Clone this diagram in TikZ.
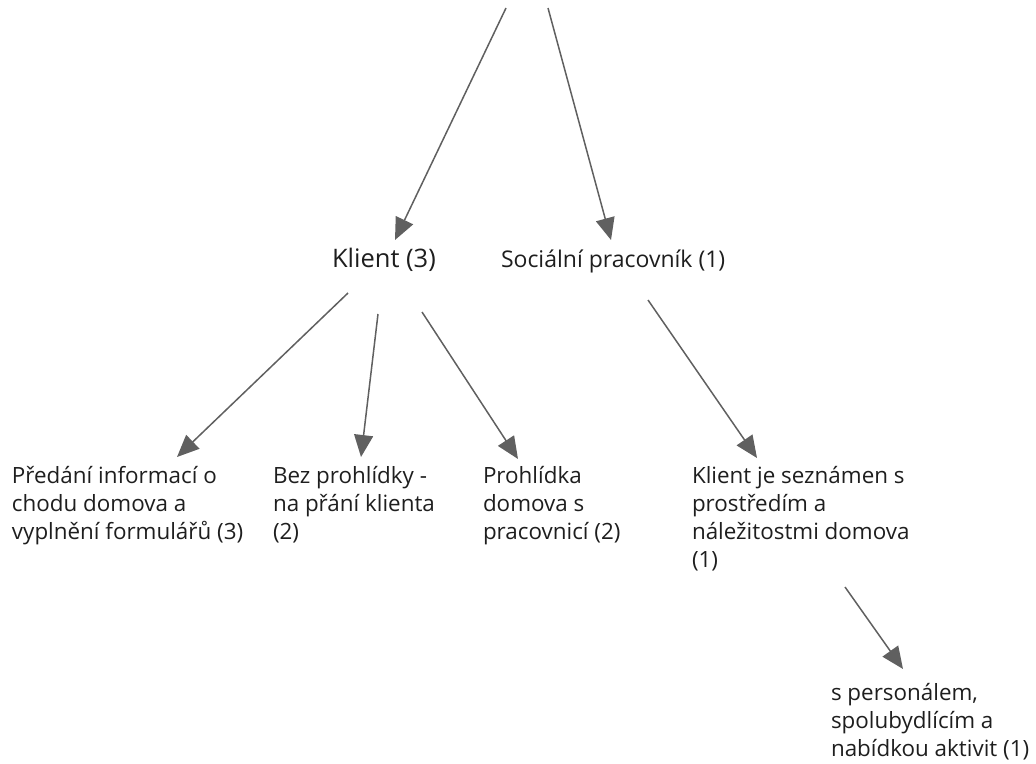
\documentclass[tikz,border=0pt]{standalone}
\usepackage{fontspec}
\setmainfont{Open Sans}
\usetikzlibrary{arrows.meta}
\definecolor{txt}{HTML}{1E1E1E}
\definecolor{arr}{HTML}{606060}
\begin{document}
\begin{tikzpicture}[x=1pt,y=-1pt,
  lbl/.style={inner sep=0pt,outer sep=0pt,text=txt,align=left,anchor=base west,
    font=\fontsize{22.4}{28}\selectfont},
  link/.style={draw=arr,line width=1.5pt,
    -{Triangle[length=22pt,width=19pt]}}]
\useasboundingbox (0,0) rectangle (1036,763);

% text blocks (anchored at the baseline of their last line)
\node[lbl,font=\fontsize{25.5}{28}\selectfont] (klient) at (332,267) {Klient (3)};
\node[lbl,font=\fontsize{23}{28}\selectfont] (socpr) at (501,267) {Sociální pracovník (1)};
\node[lbl] (predani) at (12,539) {Předání informací o\\chodu domova a\\vyplnění formulářů (3)};
\node[lbl] (bez) at (273,539) {Bez prohlídky -\\na přání klienta\\(2)};
\node[lbl] (prohl) at (483,539) {Prohlídka\\domova s\\pracovnicí (2)};
\node[lbl] (sezn) at (692,567) {Klient je seznámen s\\prostředím a\\náležitostmi domova\\(1)};
\node[lbl] (perso) at (831,756) {s personálem,\\spolubydlícím a\\nabídkou aktivit (1)};

% connector end points
\coordinate (topL) at (506,8);
\coordinate (topR) at (548,8);
\coordinate (kT) at (395,240);
\coordinate (sT) at (611,240);
\coordinate (k1) at (348,293);
\coordinate (k2) at (378,314);
\coordinate (k3) at (422,312);
\coordinate (s1) at (648,300);
\coordinate (pT) at (177,457);
\coordinate (bT) at (361,457);
\coordinate (hT) at (518,459);
\coordinate (zT) at (757,458);
\coordinate (z1) at (845,587);
\coordinate (eT) at (903,669);

% connectors
\draw[link] (topL) -- (kT);
\draw[link] (topR) -- (sT);
\draw[link] (k1) -- (pT);
\draw[link] (k2) -- (bT);
\draw[link] (k3) -- (hT);
\draw[link] (s1) -- (zT);
\draw[link] (z1) -- (eT);
\end{tikzpicture}
\end{document}
